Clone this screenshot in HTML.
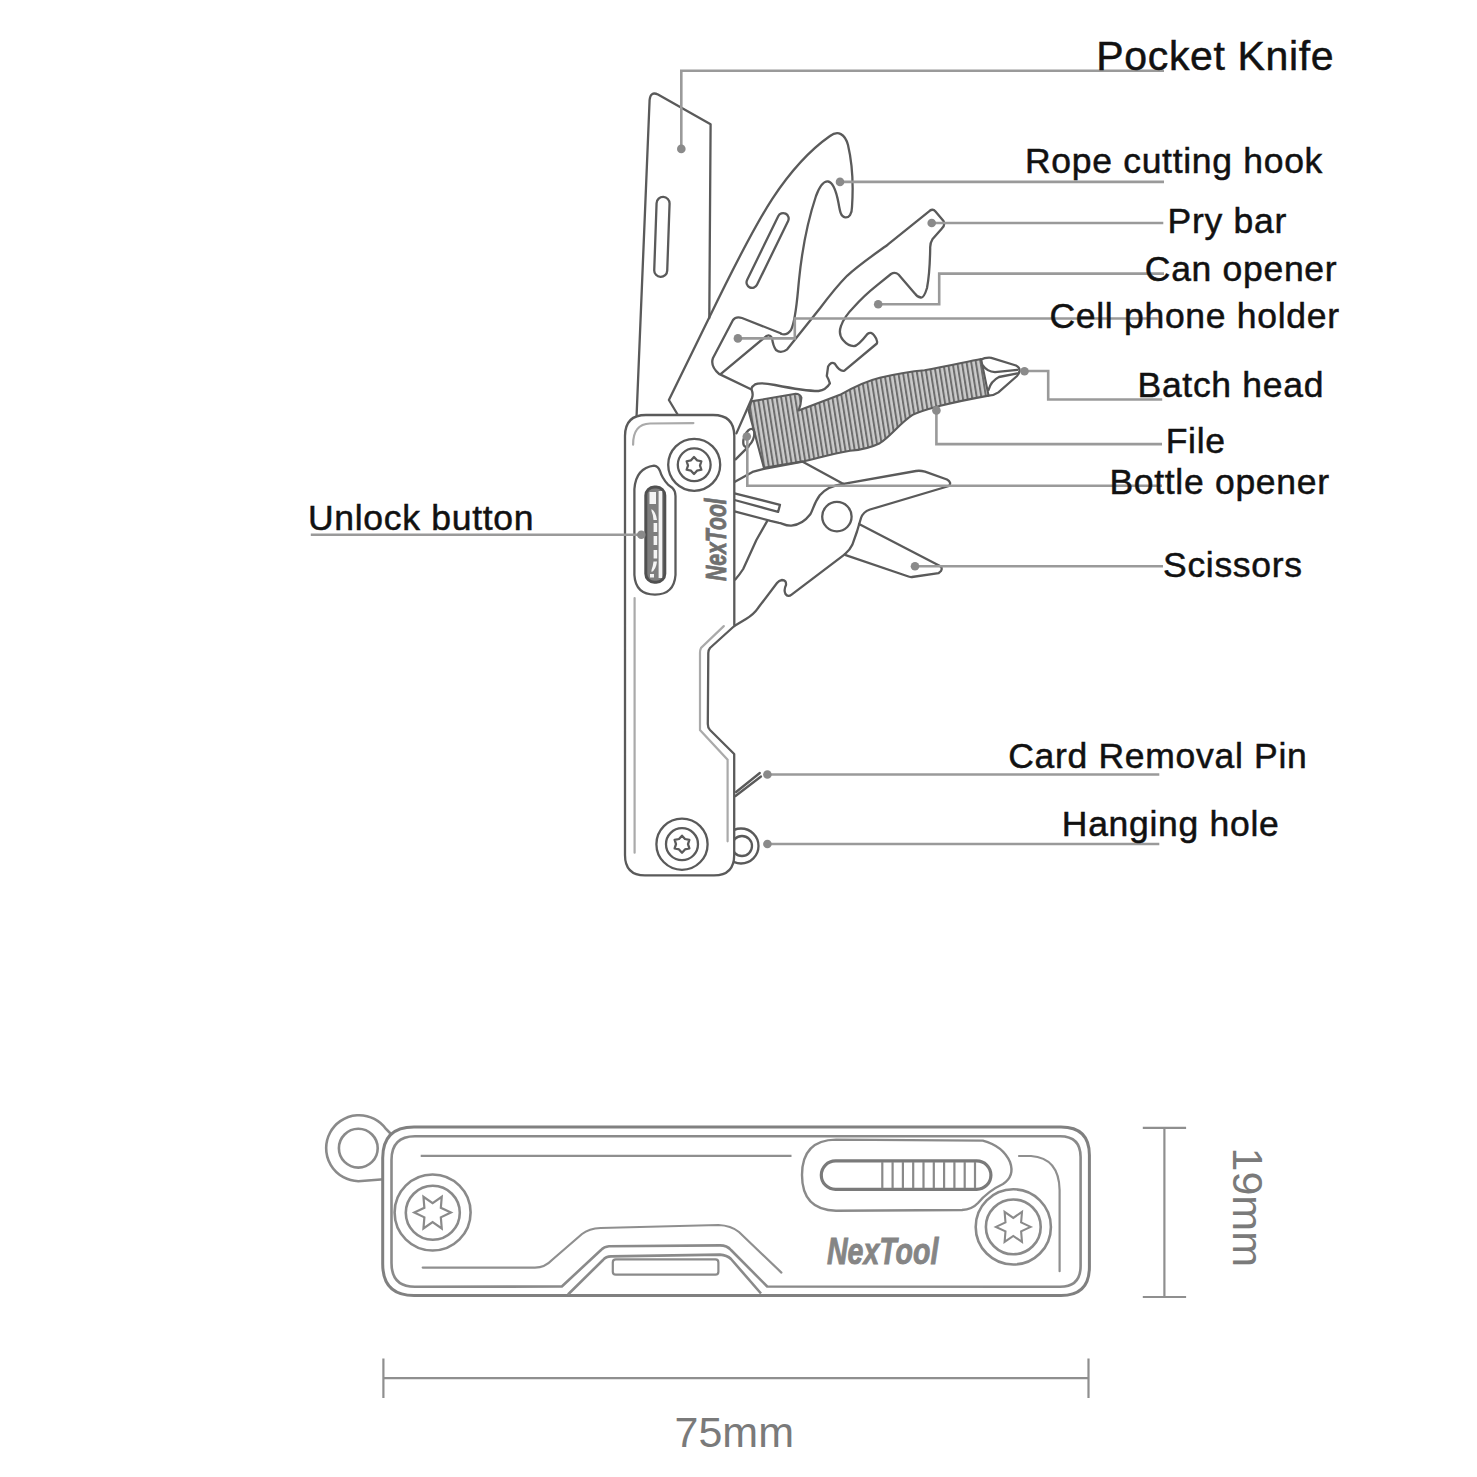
<!DOCTYPE html>
<html><head><meta charset="utf-8">
<style>
html,body{margin:0;padding:0;background:#fff;}
body{width:1477px;height:1477px;overflow:hidden;position:relative;}
svg{position:absolute;left:0;top:0;}
.lbl{font-family:"Liberation Sans",sans-serif;font-size:35.5px;letter-spacing:0.7px;fill:#111;stroke:#111;stroke-width:0.5px;}
.ld{stroke:#9a9a9a;stroke-width:2.6;fill:none;}
.dot{fill:#8a8a8a;}
.o{stroke:#5a5a5a;stroke-width:2.3;fill:none;stroke-linejoin:round;stroke-linecap:round;}
.of{stroke:#5a5a5a;stroke-width:2.3;fill:#fff;stroke-linejoin:round;stroke-linecap:round;}
.lt{stroke:#aaa;stroke-width:2.2;fill:none;stroke-linecap:round;}
.g{stroke:#8c8c8c;stroke-width:2.6;fill:none;stroke-linejoin:round;stroke-linecap:round;}
.gf{stroke:#8c8c8c;stroke-width:2.6;fill:#fff;stroke-linejoin:round;stroke-linecap:round;}
</style></head>
<body>
<svg width="1477" height="1477" viewBox="0 0 1477 1477">
<defs>
<pattern id="hatch" width="4.6" height="10" patternUnits="userSpaceOnUse" patternTransform="rotate(-9)">
<rect x="0" y="0" width="4.6" height="10" fill="#cbcbcb"/>
<rect x="0" y="0" width="2" height="10" fill="#6c6c6c"/>
</pattern>
</defs>

<!-- ============ TOP TOOL ============ -->
<g id="tools">
<!-- knife blade -->
<path class="o" d="M636.5 418 L649.6 100 Q650.5 91 658 94.5 L710.6 124.3 L709.3 318"/>
<rect class="o" x="-6.5" y="-40" width="13" height="80" rx="6.5" transform="translate(661.9 236.9) rotate(2)"/>

<!-- rope hook blade -->
<path class="o" d="M677.9 415 L668.9 400 L709 318 C725 285 752 230 772.3 198.8 C790 172 810 150 830 136 C838 130 845 134 848 145 C852 162 853.5 185 852 207 C852 214 849 218 845.1 217.4 C841 217 840 212 838.5 203 C836 190 833 182 828 181.5 C823 181 819 188 816 196 C808 220 802 250 799 280 C797 300 796 320 791 330 C788 334 784 335 781 333.7"/>
<rect class="o" x="-5.5" y="-41" width="11" height="82" rx="5.5" transform="translate(767.6 250.5) rotate(26)"/>

<!-- cell phone holder piece -->
<path class="o" d="M780.6 333.2 L742 318 Q736 316 733 320 L713 358 Q710 366 719 373.9 L751.5 389.5 Q753.5 394 752 398 L736.4 433.4"/>
<!-- pry bar / can opener piece -->
<path class="o" d="M720.9 373.9 L764 338 Q769 333 772 337.9 Q773 346 776 350 Q781 354 787.2 349.3 L820 308.3 C830 295 840 283 847.1 275.8 C860 264 875 254 887.7 244.7 L929.7 210.8 Q933 208.5 935.5 211.5 L943.5 221 Q945.5 225 941.9 228.4 L932.4 239.3 Q930 243 930.2 248 C930 262 929.5 275 927 288 Q924 298 920.9 297.5 Q917 297 914.8 293.4 L898.5 274.5 Q895 271.5 891 274 L876.9 285.3 C866 294 860 300 853.9 307 C848 313 843 320 841 326 Q838 334 843 340 Q848 346 853.9 346.2 Q858 346 867.4 334 Q871 331 874.2 335.4 Q878 340 876.9 343.5 L844.4 370.6 Q840 372 834.9 363.8 Q831 361 828.1 366.5 L826.8 376 Q829 380 829.9 383.4 Q826 390 818.5 391 C805 391 790 388 775 385 C765 383 758 383 755 384.4 Q752 386 751.2 389.1"/>

<!-- file with hatching -->
<path d="M751.2 401.4 L795.7 393.8 Q800 394 801.4 397.6 Q801 405 798.6 410.5 L840 394.8 C852 388 866 381 879.8 377.7 C900 373 915 371 924.5 370.2 C945 367 965 362 981.1 359 L988.6 395.6 C970 399 955 402 939.4 406 C928 409 920 411 912.6 414.9 C900 423 890 437 879.8 443.2 C870 448 860 450 850 450.7 C830 454 815 459 803.7 461.2 L763.9 467.8 L748.7 411 Z" fill="url(#hatch)" stroke="#5c5c5c" stroke-width="2.1" stroke-linejoin="round"/>
<!-- bit head -->
<path class="o" d="M981.1 359.5 Q985 357.3 991.3 357.8 L1016 365.5 Q1020 367.5 1019.5 371 Q1019 374 1017 376 L998.4 392.4 Q994 395.5 988.6 395.6"/>
<path class="o" stroke-width="2" d="M982.8 365.4 Q987 371.5 995 372.2 L1017.4 369.8 M988.5 390 Q991 381 999 377 L1017.4 373.4"/>

<!-- small tab with bottle opener dot -->
<ellipse class="o" cx="748.8" cy="437.8" rx="4.6" ry="9.5" transform="rotate(22 748.8 437.8)"/>
<path class="o" d="M735.6 459.4 L748.6 446.4"/>

<!-- bottle opener / scissors handle -->
<path class="o" d="M734.5 482 L753.4 471.6 L763.9 468.8 L802.7 461.7 L843.5 483.9"/>
<path class="of" d="M734.5 493.4 L780 504.8 L778.1 511.9 L734.5 500"/>
<path class="o" d="M843.5 483.9 L916 471 Q920 470.3 925 471.6 L947 479.5 Q952 482.5 949 486 L870 509.5 Q863 512 861 518 L857 531.5 L852.3 544.8 Q850 550 844.7 554.3"/>
<path class="o" d="M843.5 483.9 C835 485 826 488 819.8 495.3 C814 503 813 510 810.3 514.3 C806 520 800 525 791.4 525.6 C785 526 782 523 779 522.8 L770.5 520.9 L734.5 511.4"/>
<path class="o" d="M767 521.4 L756.4 540 L743.2 569 Q740 574 735.3 579.6"/>
<!-- lower blade -->
<path class="o" d="M859 524 L939.5 565.7 Q943 567.5 941 571 L938.6 573.2 L912 577 Q910 577.3 907 576 L845.7 555.2"/>
<!-- pivot lower body -->
<path class="o" d="M844.7 554.3 L791.6 594.6 Q788 597.5 785.5 594 Q783.5 590 786 585 Q786.5 580 782 580 Q779 580.5 777 583 L758.2 607.8 Q754 614 746 619 L734.3 626"/>
<circle class="o" cx="836.9" cy="516.6" r="14.7"/>

<!-- card removal pin -->
<path class="o" stroke-width="1.8" d="M736.1 792 L759.8 773 M735.5 796 L761 776.5"/>
<!-- hanging ring -->
<circle class="o" cx="741" cy="846" r="17.5"/>
<circle class="o" cx="742" cy="846" r="10"/>

<!-- handle -->
<path class="of" d="M646 415 L713 415 Q734.3 415 734.3 436 L734.3 626 L710 648 Q708.3 650 708.3 653 L707.8 724 Q707.8 728 710 730 L734.2 754 L734.2 855 Q734.2 875.4 714 875.4 L645 875.4 Q625 875.4 625 855 L625 436 Q625 415 646 415 Z"/>
<path class="lt" d="M633.1 444.7 Q633 424 650 423.5 L693.4 423.1"/>
<path class="lt" d="M634.6 598 L634.6 852.7"/>
<path class="lt" d="M723.8 626.1 L701 648 Q700 650 700 653 L700 730 L727.6 759.8 L727.6 841.3"/>

<!-- screws -->
<circle class="o" cx="694.2" cy="464.8" r="26"/>
<circle class="o" cx="694.2" cy="464.8" r="16.4"/>
<polygon class="o" stroke-width="2.2" transform="translate(694 465.5)" points="0.00,-8.50 3.00,-5.20 7.36,-4.25 6.00,0.00 7.36,4.25 3.00,5.20 0.00,8.50 -3.00,5.20 -7.36,4.25 -6.00,0.00 -7.36,-4.25 -3.00,-5.20"/>
<circle class="o" cx="682" cy="844.2" r="25.6"/>
<circle class="o" cx="682" cy="844.2" r="16"/>
<polygon class="o" stroke-width="2.2" transform="translate(682 844.2)" points="0.00,-8.50 3.00,-5.20 7.36,-4.25 6.00,0.00 7.36,4.25 3.00,5.20 0.00,8.50 -3.00,5.20 -7.36,4.25 -6.00,0.00 -7.36,-4.25 -3.00,-5.20"/>

<!-- unlock button -->
<path class="o" d="M634.4 575 L634.4 489 Q636 468 654 465.7 Q658 466 660 471 Q662 478 668 484.6 L672.5 488 Q675.5 491 675.5 496 L675.5 575 Q674 594.6 655 594.6 Q635.5 594.6 634.4 575 Z"/>
<rect x="645.8" y="487" width="19" height="95.3" rx="8.5" fill="#7e7e7e" stroke="#505050" stroke-width="3"/>
<rect x="658.6" y="491" width="3.6" height="87" fill="#f4f4f4"/>
<g fill="#f4f4f4">
<rect x="649.5" y="492" width="6.5" height="12"/>
<path d="M651.5 509 Q656 512 657 520 L653.5 520 Q653 514 651.5 511 Z"/>
<rect x="653.6" y="523" width="3.6" height="9"/>
<rect x="653.6" y="536" width="3.6" height="9"/>
<rect x="653.6" y="550" width="3.6" height="8.5"/>
<path d="M657 561.5 Q656 570 651.5 572 L651.5 570 Q653 566 653.5 561.5 Z"/>
<rect x="650" y="574" width="4" height="3.5"/>
</g>
<text x="0" y="0" font-family="Liberation Sans" font-weight="bold" font-style="italic" font-size="29" fill="#707070" stroke="#707070" stroke-width="0.8" transform="translate(725.5 581) rotate(-90) scale(0.73 1)">NexTool</text>
</g>

<!-- ============ LEADERS ============ -->
<g>
<path class="ld" d="M681.3 148.9 L681.3 70.8 L1164 70.8"/>
<circle class="dot" cx="681.3" cy="148.9" r="4.3"/>
<path class="ld" d="M840 181.9 L1164 181.9"/>
<circle class="dot" cx="840" cy="181.9" r="4.3"/>
<path class="ld" d="M931.7 223 L1163.3 223"/>
<circle class="dot" cx="931.7" cy="223" r="4.3"/>
<path class="ld" d="M878.2 304.3 L939.2 304.3 L939.2 273.6 L1164 273.6"/>
<circle class="dot" cx="878.2" cy="304.3" r="4.3"/>
<path class="ld" d="M737.9 338.4 L794.8 338.4 L794.8 318.5 L1157.8 318.5"/>
<circle class="dot" cx="737.9" cy="338.4" r="4.3"/>
<path class="ld" d="M1025 371 L1048.2 371 L1048.2 399.5 L1162.2 399.5"/>
<circle class="dot" cx="1024.5" cy="371.2" r="4.3"/>
<path class="ld" d="M936.4 410.4 L936.4 444.1 L1162 444.1"/>
<circle class="dot" cx="936.4" cy="410.4" r="4.3"/>
<path class="ld" d="M747.3 436.5 L747.3 485.8 L1162 485.8"/>
<circle class="dot" cx="746.8" cy="436.5" r="4.3"/>
<path class="ld" d="M915 566.3 L1163 566.3"/>
<circle class="dot" cx="915" cy="566.3" r="4.3"/>
<path class="ld" d="M641.3 534.8 L310.8 534.8"/>
<circle class="dot" cx="641.3" cy="534.8" r="4.3"/>
<path class="ld" d="M767.4 774.5 L1159.3 774.5"/>
<circle class="dot" cx="767.4" cy="774.5" r="4.3"/>
<path class="ld" d="M767.4 844 L1159.3 844"/>
<circle class="dot" cx="767.4" cy="844" r="4.3"/>
</g>

<!-- ============ LABELS ============ -->
<g>
<text class="lbl" x="1096.3" y="70.3" style="font-size:41px;letter-spacing:0.65px">Pocket Knife</text>
<text class="lbl" x="1025" y="172.7">Rope cutting hook</text>
<text class="lbl" x="1167.6" y="232.9">Pry bar</text>
<text class="lbl" x="1144.8" y="280.6">Can opener</text>
<text class="lbl" x="1049.5" y="328.3">Cell phone holder</text>
<text class="lbl" x="1137.5" y="397.3">Batch head</text>
<text class="lbl" x="1165.7" y="453.3">File</text>
<text class="lbl" x="1109.4" y="493.8">Bottle opener</text>
<text class="lbl" x="1163" y="577.4">Scissors</text>
<text class="lbl" x="308" y="530">Unlock button</text>
<text class="lbl" x="1008.2" y="767.9">Card Removal Pin</text>
<text class="lbl" x="1061.8" y="835.7">Hanging hole</text>
</g>

<!-- ============ BOTTOM TOOL ============ -->
<g id="bottom">
<!-- keyring -->
<path d="M384 1179.2 L358.3 1181.2 A33 33 0 1 1 386 1129 L392 1135" fill="none" stroke="#8a8a8a" stroke-width="2.6"/>
<circle cx="358.3" cy="1148.2" r="19.4" fill="none" stroke="#8a8a8a" stroke-width="2.6"/>
<!-- body outer -->
<path d="M414 1126.9 L1061 1126.9 Q1089.4 1126.9 1089.4 1155 L1089.4 1267 Q1089.4 1295.5 1061 1295.5 L414 1295.5 Q382.7 1295.5 382.7 1264 L382.7 1158 Q382.7 1126.9 414 1126.9 Z" fill="#fff" stroke="#808080" stroke-width="3"/>
<!-- body inner -->
<path d="M415 1136.2 L1060 1136.2 Q1080.6 1136.2 1080.6 1157 L1080.6 1266 Q1080.6 1286.8 1060 1286.8 L767.2 1286.5 L731 1250 Q727 1245.5 720 1245.4 L609 1246.2 Q604 1246.5 601 1250 L561.8 1286.5 L415 1286.8 Q391.5 1286.8 391.5 1263 L391.5 1160 Q391.5 1136.2 415 1136.2 Z" fill="none" stroke="#8a8a8a" stroke-width="2.6" stroke-linejoin="round"/>
<!-- cutout inner trapezoid -->
<path d="M568 1294.5 L603 1260 Q606 1256.5 611 1256.4 L720 1254.6 Q727 1255 731 1259 L761 1293.5" fill="none" stroke="#8a8a8a" stroke-width="2.6" stroke-linejoin="round"/>
<rect x="612.8" y="1259.4" width="105.6" height="15.3" rx="3" fill="none" stroke="#8a8a8a" stroke-width="2.2"/>
<!-- light lines -->
<path d="M420.7 1155.9 L791.5 1155.9" stroke="#8f8f8f" stroke-width="2.2" fill="none"/>
<path d="M422.7 1267.6 L535 1267.6 Q545 1267.5 552 1260 L582 1234 Q589 1228.5 600.6 1228 L718.4 1225 Q731 1225.5 739 1232 L781.4 1272.6" stroke="#8f8f8f" stroke-width="2.2" fill="none" stroke-linecap="round"/>
<path d="M1019 1156 L1031 1156 Q1059 1158 1059.6 1190 L1059.6 1271.2" stroke="#8f8f8f" stroke-width="2.2" fill="none" stroke-linecap="round"/>
<!-- screws -->
<circle cx="432.6" cy="1212.5" r="38" fill="#fff" stroke="#8a8a8a" stroke-width="2.6"/>
<circle cx="432.8" cy="1212.8" r="27" fill="none" stroke="#8a8a8a" stroke-width="2.6"/>
<polygon transform="translate(432.6 1212.6)" points="18.30,0.00 8.23,4.75 9.15,15.85 0.00,9.50 -9.15,15.85 -8.23,4.75 -18.30,0.00 -8.23,-4.75 -9.15,-15.85 -0.00,-9.50 9.15,-15.85 8.23,-4.75" fill="none" stroke="#8a8a8a" stroke-width="2.2" stroke-linejoin="miter"/>
<circle cx="1013.3" cy="1226.9" r="37.6" fill="#fff" stroke="#8a8a8a" stroke-width="2.6"/>
<circle cx="1013.3" cy="1226.9" r="27.4" fill="none" stroke="#8a8a8a" stroke-width="2.6"/>
<polygon transform="translate(1013.3 1226.9) scale(0.95)" points="18.30,0.00 8.23,4.75 9.15,15.85 0.00,9.50 -9.15,15.85 -8.23,4.75 -18.30,0.00 -8.23,-4.75 -9.15,-15.85 -0.00,-9.50 9.15,-15.85 8.23,-4.75" fill="none" stroke="#8a8a8a" stroke-width="2.2"/>
<!-- unlock pill -->
<path d="M836 1139.6 L982.8 1140.6 Q1003 1146 1010 1162 Q1015 1176 1003 1184 Q988 1191 978 1203 Q972 1209.5 962 1210 L836 1210.7 Q802 1210 802 1175 Q802 1140 836 1139.6 Z" fill="none" stroke="#8a8a8a" stroke-width="2.4" stroke-linejoin="round"/>
<rect x="821.3" y="1160.9" width="169.6" height="28.5" rx="14.2" fill="none" stroke="#7a7a7a" stroke-width="3.2"/>
<path d="M882.3 1162 V1188 M892.6 1162 V1188 M902.9 1162 V1188 M913.2 1162 V1188 M923.5 1162 V1188 M933.8 1162 V1188 M944.1 1162 V1188 M954.4 1162 V1188 M964.7 1162 V1188 M975 1162 V1188" stroke="#8a8a8a" stroke-width="2.2"/>
<text x="0" y="0" font-family="Liberation Sans" font-weight="bold" font-style="italic" font-size="37" fill="#858585" stroke="#858585" stroke-width="0.9" transform="translate(827 1263.5) scale(0.77 1)">NexTool</text>
</g>
<!-- dimensions -->
<g stroke="#8f8f8f" stroke-width="2.2" fill="none">
<path d="M1164.4 1127.8 V1297 M1142.8 1127.8 H1186.1 M1142.8 1297 H1186.1"/>
<path d="M383.4 1378.2 H1088.5 M383.4 1358.5 V1398 M1088.5 1358.5 V1398"/>
</g>
<text x="0" y="0" font-family="Liberation Sans" font-size="43" fill="#7a7a7a" transform="translate(1232.5 1147.5) rotate(90)">19mm</text>
<text x="674.5" y="1447.4" font-family="Liberation Sans" font-size="43" fill="#7a7a7a">75mm</text>

</svg>
</body></html>
